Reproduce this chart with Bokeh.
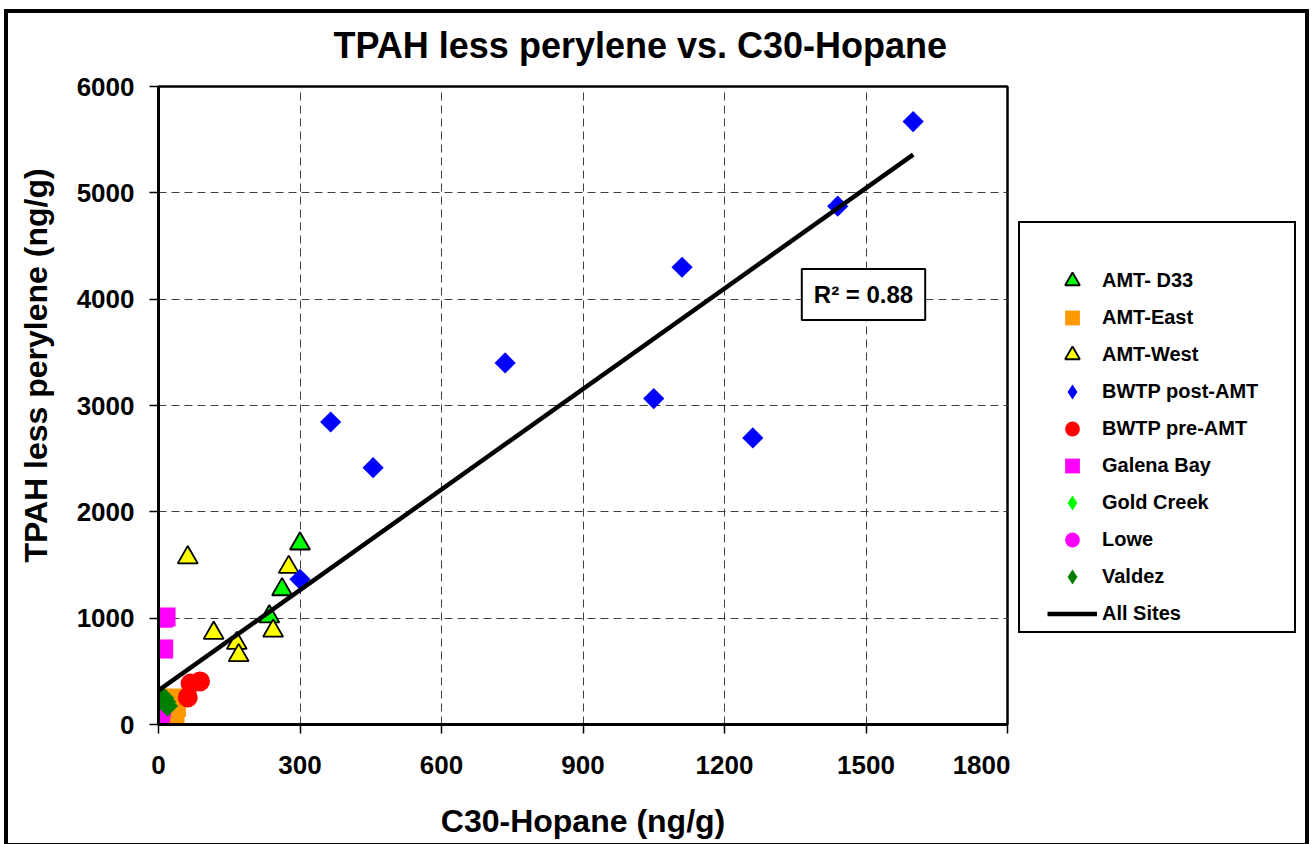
import numpy as np
from bokeh.plotting import figure
from bokeh.layouts import row
from bokeh.models import Legend, LegendItem, Label, InlineStyleSheet
from bokeh.embed import file_html
from bokeh.resources import INLINE

FONT = "Liberation Sans"

# ---------------- data ----------------
title_text = "TPAH less perylene vs. C30-Hopane"
x_title = "C30-Hopane (ng/g)"
y_title = "TPAH less perylene (ng/g)"

x_ticks = [0, 300, 600, 900, 1200, 1500, 1800]
y_ticks = [0, 1000, 2000, 3000, 4000, 5000, 6000]

amt_d33_x = [300, 262, 235]
amt_d33_y = [1700, 1270, 1015]

amt_east_x = [30, 38, 35]
amt_east_y = [250, 160, 90]

amt_west_x = [62, 117, 166, 170, 243, 276]
amt_west_y = [1570, 860, 765, 650, 880, 1480]

bwtp_post_x = [1600, 1440, 1110, 735, 1050, 1260, 365, 455, 300]
bwtp_post_y = [5670, 4875, 4300, 3400, 3065, 2695, 2845, 2415, 1365]

bwtp_pre_x = [88, 68, 62, 3]
bwtp_pre_y = [405, 385, 255, 40]

galena_x = [10, 16, 11]
galena_y = [1000, 1010, 710]

gold_creek_x = [10]
gold_creek_y = [170]

lowe_x = [4, 6]
lowe_y = [60, 110]

valdez_x = [11, 19, 15]
valdez_y = [250, 175, 215]

fit_intercept = 320
fit_slope = 3.15
fit_x_start = 0
fit_x_end = 1600
r2_text = "R\u00b2 = 0.88"

series = [
    ("AMT- D33", amt_d33_x, amt_d33_y, "triangle", "#00FF00"),
    ("AMT-East", amt_east_x, amt_east_y, "square", "#FF9900"),
    ("AMT-West", amt_west_x, amt_west_y, "triangle", "#FFFF00"),
    ("BWTP post-AMT", bwtp_post_x, bwtp_post_y, "diamond", "#0000FF"),
    ("BWTP pre-AMT", bwtp_pre_x, bwtp_pre_y, "circle", "#FF0000"),
    ("Galena Bay", galena_x, galena_y, "square", "#FF00FF"),
    ("Gold Creek", gold_creek_x, gold_creek_y, "diamond", "#00FF00"),
    ("Lowe", lowe_x, lowe_y, "circle", "#FF00FF"),
    ("Valdez", valdez_x, valdez_y, "diamond", "#008000"),
]
fit_label = "All Sites"

fit_xs = np.array([fit_x_start, fit_x_end], dtype=float)
fit_ys = fit_intercept + fit_slope * fit_xs


def marker_style(kind, in_legend=False):
    if kind == "triangle":
        return dict(marker="triangle", size=20, line_color="black", line_width=1.8)
    if kind == "square":
        return dict(marker="square", size=19, line_color=None)
    if kind == "circle":
        return dict(marker="circle", size=20, line_color=None)
    if in_legend:
        return dict(marker="diamond", size=15, line_color=None)
    return dict(marker="square", angle=np.pi / 4, size=15, line_color=None)


# ---------------- main chart ----------------
p = figure(width=1010, height=844, x_range=(0, 1800), y_range=(0, 6000),
           output_backend="svg", toolbar_location=None,
           min_border_left=158, min_border_right=3,
           min_border_top=86, min_border_bottom=120,
           background_fill_color="white", border_fill_color="white",
           outline_line_color="black", outline_line_width=2.5)

p.title.text = title_text
p.title.align = "left"
p.title.offset = 175
p.title.standoff = 42
p.title.text_font = FONT
p.title.text_font_style = "bold"
p.title.text_font_size = "36px"
p.title.text_color = "black"

p.xaxis.ticker = x_ticks
p.yaxis.ticker = y_ticks
for ax in (p.xaxis, p.yaxis):
    ax.axis_line_width = 3
    ax.axis_line_color = "black"
    ax.major_tick_line_color = "black"
    ax.major_tick_line_width = 1.5
    ax.major_tick_out = 9
    ax.major_tick_in = 0
    ax.minor_tick_out = 0
    ax.minor_tick_in = 0
    ax.major_label_text_font = FONT
    ax.major_label_text_font_style = "bold"
    ax.major_label_text_font_size = "26px"
    ax.major_label_text_color = "black"
    ax.axis_label_text_font = FONT
    ax.axis_label_text_font_style = "bold"
    ax.axis_label_text_color = "black"
p.xaxis.major_label_standoff = 22
p.yaxis.major_label_standoff = 15
p.xaxis.axis_label = x_title
p.xaxis.axis_label_text_font_size = "32px"
p.xaxis.axis_label_standoff = 26
p.yaxis.axis_label = "\u00a0" * 9 + y_title
p.yaxis.axis_label_text_font_size = "32px"
p.yaxis.axis_label_standoff = 20

p.xgrid.ticker = x_ticks
p.ygrid.ticker = y_ticks
for g in (p.xgrid, p.ygrid):
    g.grid_line_color = "#404040"
    g.grid_line_dash = "8 5"
    g.grid_line_width = 1

for name, xs, ys, kind, color in series:
    p.scatter(xs, ys, fill_color=color, **marker_style(kind))
p.line(fit_xs, fit_ys, line_color="black", line_width=4.5)

p.add_layout(Label(x=705, y=430, x_units="screen", y_units="screen", text=r2_text,
                   text_align="center", text_baseline="middle", text_color="black",
                   text_font=FONT, text_font_style="bold", text_font_size="24px",
                   background_fill_color="white", border_line_color="black",
                   border_line_width=2, padding=12))

p.stylesheets = [InlineStyleSheet(css="""
:host { position: relative; overflow: visible; }
:host::before { content: ""; position: absolute; left: 4px; top: 9px; width: 1305px; height: 838px;
  border: 4px solid black; box-sizing: border-box; pointer-events: none; z-index: 10; }
""")]

# ---------------- legend panel (glyphs kept out of its view range) ----------------
q = figure(width=302, height=844, x_range=(-2, -1), y_range=(-2, -1),
           output_backend="svg", toolbar_location=None,
           x_axis_location=None, y_axis_location=None,
           min_border=0, outline_line_color=None,
           background_fill_color=None, border_fill_color=None)
q.grid.visible = False

leg_items = []
for name, xs, ys, kind, color in series:
    r = q.scatter(xs, ys, fill_color=color, **marker_style(kind, in_legend=True))
    leg_items.append(LegendItem(label=name, renderers=[r]))
rl = q.line(fit_xs, fit_ys, line_color="black", line_width=4.5)
leg_items.append(LegendItem(label=fit_label, renderers=[rl]))

legend = Legend(items=leg_items, location=(37, 92.5), orientation="vertical",
                glyph_width=50, glyph_height=37, label_height=37, spacing=0,
                padding=0, margin=0, label_standoff=5,
                label_text_font=FONT, label_text_font_style="bold",
                label_text_font_size="20px", label_text_color="black",
                border_line_alpha=0, background_fill_alpha=0)
q.add_layout(legend)

q.stylesheets = [InlineStyleSheet(css="""
:host { position: relative; overflow: visible; }
:host::after { content: ""; position: absolute; left: 8px; top: 221px; width: 278px; height: 412px;
  border: 2px solid black; box-sizing: border-box; pointer-events: none; z-index: 10; }
""")]

layout = row(p, q)
open("out.html", "w").write(file_html(layout, INLINE))
